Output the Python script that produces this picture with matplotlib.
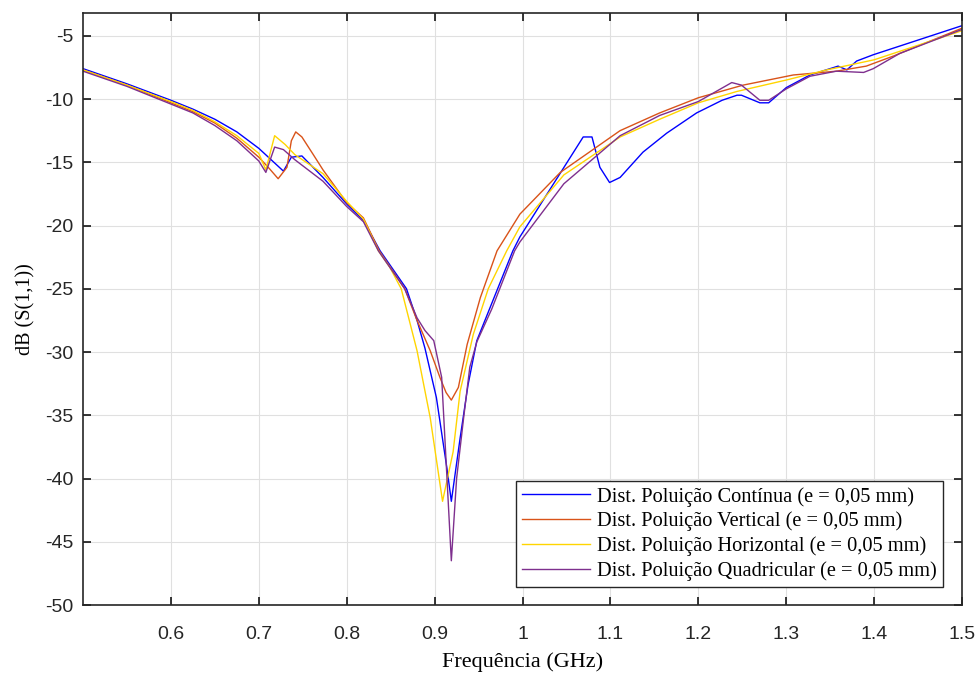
import matplotlib.pyplot as plt

plt.rcParams['axes.unicode_minus'] = False

# Frequência (GHz) / dB(S(1,1))
f_cont = [0.5, 0.55, 0.6, 0.625, 0.65, 0.675, 0.7, 0.728, 0.737, 0.749, 0.773, 0.80, 0.819,
          0.838, 0.868, 0.880, 0.889, 0.902, 0.914, 0.919, 0.929, 0.938, 0.948, 0.963, 0.989,
          0.997, 1.069, 1.079, 1.088, 1.099, 1.111, 1.137, 1.164, 1.198, 1.227, 1.244, 1.249,
          1.270, 1.280, 1.300, 1.327, 1.359, 1.369, 1.380, 1.399, 1.5]
db_cont = [-7.6, -8.8, -10.1, -10.8, -11.6, -12.6, -13.9, -15.7, -14.6, -14.5, -16.2, -18.3, -19.6,
           -22.0, -25.0, -27.5, -29.7, -33.6, -39.2, -41.8, -36.8, -32.6, -29.1, -26.5, -22.0,
           -20.9, -13.0, -13.0, -15.4, -16.6, -16.2, -14.2, -12.7, -11.1, -10.1, -9.7, -9.7,
           -10.3, -10.3, -9.1, -8.1, -7.4, -7.7, -7.0, -6.5, -4.2]

f_vert = [0.5, 0.55, 0.6, 0.625, 0.65, 0.675, 0.7, 0.712, 0.722, 0.732, 0.737, 0.742, 0.749,
          0.762, 0.773, 0.80, 0.819, 0.837, 0.866, 0.880, 0.895, 0.906, 0.913, 0.919, 0.927,
          0.937, 0.952, 0.971, 0.997, 1.043, 1.111, 1.156, 1.2, 1.251, 1.308, 1.357, 1.391,
          1.422, 1.5]
db_vert = [-7.7, -8.9, -10.3, -11.0, -11.9, -13.1, -14.6, -15.5, -16.3, -15.4, -13.3, -12.6, -13.0,
           -14.4, -15.6, -18.2, -19.4, -22.0, -25.0, -27.5, -29.9, -32.0, -33.2, -33.8, -32.8,
           -29.4, -25.7, -22.0, -19.1, -15.8, -12.5, -11.1, -9.9, -8.9, -8.1, -7.8, -7.4,
           -6.6, -4.4]

f_horiz = [0.5, 0.55, 0.6, 0.625, 0.65, 0.675, 0.7, 0.708, 0.718, 0.73, 0.741, 0.773, 0.80,
           0.819, 0.836, 0.849, 0.862, 0.880, 0.895, 0.909, 0.921, 0.929, 0.944, 0.961, 0.982,
           0.997, 1.047, 1.111, 1.156, 1.2, 1.244, 1.3, 1.346, 1.4, 1.5]
db_horiz = [-7.7, -8.9, -10.2, -10.9, -11.8, -12.9, -14.3, -15.6, -12.9, -13.6, -14.4, -15.9, -18.1,
            -19.5, -22.0, -23.3, -25.0, -29.9, -35.2, -41.8, -37.9, -33.1, -28.6, -25.0, -22.0,
            -20.1, -16.0, -13.0, -11.6, -10.3, -9.4, -8.5, -7.7, -6.9, -4.6]

f_quad = [0.5, 0.55, 0.6, 0.625, 0.65, 0.675, 0.7, 0.708, 0.718, 0.728, 0.741, 0.773, 0.80,
          0.819, 0.836, 0.866, 0.880, 0.889, 0.899, 0.908, 0.919, 0.925, 0.933, 0.940, 0.948,
          0.965, 0.991, 0.997, 1.047, 1.111, 1.156, 1.2, 1.238, 1.249, 1.270, 1.280, 1.300,
          1.327, 1.357, 1.388, 1.399, 1.429, 1.5]
db_quad = [-7.8, -9.0, -10.4, -11.1, -12.1, -13.3, -14.9, -15.8, -13.8, -14.0, -14.8, -16.5, -18.5,
           -19.7, -22.0, -25.0, -27.3, -28.3, -29.1, -32.0, -46.5, -40.0, -35.2, -31.2, -29.2,
           -26.6, -22.0, -21.3, -16.7, -12.9, -11.3, -10.2, -8.7, -8.9, -10.1, -10.1, -9.2,
           -8.2, -7.8, -7.9, -7.6, -6.4, -4.5]

labels = ['Dist. Poluição Contínua (e = 0,05 mm)',
          'Dist. Poluição Vertical (e = 0,05 mm)',
          'Dist. Poluição Horizontal (e = 0,05 mm)',
          'Dist. Poluição Quadricular (e = 0,05 mm)']
colors = ['#0000FF', '#D95319', '#FFD500', '#7E2F8E']

xticks = [0.6, 0.7, 0.8, 0.9, 1.0, 1.1, 1.2, 1.3, 1.4, 1.5]
xticklabels = ['0.6', '0.7', '0.8', '0.9', '1', '1.1', '1.2', '1.3', '1.4', '1.5']
yticks = list(range(-50, 0, 5))

fig = plt.figure(figsize=(9.8, 6.73), dpi=100)
ax = fig.add_axes([0.0847, 0.101, 0.897, 0.8797])

series = [(f_cont, db_cont), (f_vert, db_vert), (f_horiz, db_horiz), (f_quad, db_quad)]
for (f, db), lab, c in zip(series, labels, colors):
    ax.plot(f, db, color=c, lw=1.0, label=lab)

ax.set_xlim(0.5, 1.5)
ax.set_ylim(-50, -3.2)
ax.set_xticks(xticks)
ax.set_xticklabels(xticklabels)
ax.set_yticks(yticks)
ax.grid(True, color='#e0e0e0', lw=0.8)
ax.set_axisbelow(True)
ax.tick_params(direction='in', top=True, right=True, length=6, width=1.1, labelsize=14)
ax.tick_params(axis='x', pad=15)
ax.tick_params(axis='y', pad=7)
for lbl in ax.get_xticklabels() + ax.get_yticklabels():
    lbl.set_family('Liberation Sans')
    lbl.set_color('#262626')
for sp in ax.spines.values():
    sp.set_linewidth(1.2)
    sp.set_color('#262626')

ax.set_xlabel('Frequência (GHz)', family='Liberation Serif', fontsize=16, labelpad=7)
ax.set_ylabel('dB (S(1,1))', family='Liberation Serif', fontsize=14.5, labelpad=7)

leg = ax.legend(loc='lower right', bbox_to_anchor=(0.978, 0.030), fancybox=False,
                framealpha=1, edgecolor='#262626', handlelength=3.3,
                prop={'family': 'Liberation Serif', 'size': 14.7},
                borderpad=0.3, labelspacing=0.25, handletextpad=0.35, borderaxespad=0)
leg.get_frame().set_linewidth(1.0)

fig.savefig('out.png', dpi=100)
